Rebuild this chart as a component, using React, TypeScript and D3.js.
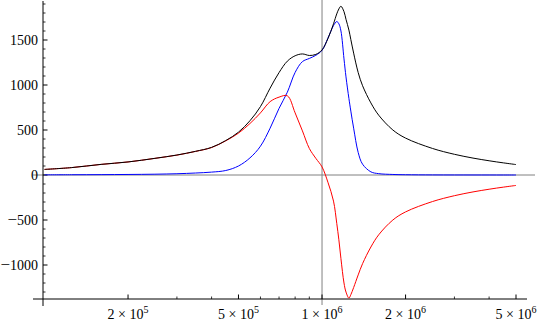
import React from 'react';
import * as d3 from 'd3';

// frequencies sampled along the log axis
const freqs = [
  1e5, 1.25e5, 1.6e5, 2e5, 2.5e5, 3e5, 3.5e5, 4e5, 4.5e5, 5e5,
  5.5e5, 6e5, 6.5e5, 7e5, 7.5e5, 8e5, 8.5e5, 9e5, 9.5e5, 1e6,
  1.05e6, 1.1e6, 1.13e6, 1.15e6, 1.17e6, 1.2e6, 1.22e6, 1.25e6, 1.27e6, 1.3e6,
  1.35e6, 1.4e6, 1.5e6, 1.6e6, 1.8e6, 2e6, 2.5e6, 3e6, 3.5e6, 4e6,
  4.5e6, 5e6,
];

// black curve
const magnitude = [
  62, 82, 118, 145, 185, 222, 263, 307, 383, 476,
  603, 760, 965, 1138, 1265, 1325, 1345, 1328, 1340, 1390,
  1515, 1680, 1790, 1845, 1875, 1815, 1730, 1610, 1505, 1354,
  1138, 992, 801, 665, 500, 410, 295, 230, 188, 158,
  135, 116,
];

// red curve
const realPart = [
  62, 82, 118, 145, 185, 221, 262, 305, 380, 465,
  572, 690, 815, 865, 880, 690, 490, 295, 185, 90,
  -80, -290, -537, -720, -930, -1200, -1300, -1368, -1330, -1250,
  -1110, -985, -800, -665, -500, -410, -295, -230, -188, -158,
  -135, -116,
];

// blue curve
const imagPart = [
  2, 3, 4, 6, 9, 14, 22, 32, 50, 100,
  190, 320, 520, 740, 920, 1140, 1260, 1295, 1330, 1385,
  1520, 1660, 1705, 1680, 1600, 1290, 1090, 850, 710, 520,
  250, 120, 35, 15, 6, 3, 1, 0.5, 0.3, 0.2,
  0.1, 0.1,
];

const xLabelTicks = [
  { v: 2e5, m: 2, e: 5 },
  { v: 5e5, m: 5, e: 5 },
  { v: 1e6, m: 1, e: 6 },
  { v: 2e6, m: 2, e: 6 },
  { v: 5e6, m: 5, e: 6 },
];
const xMinorTicks = [3e5, 4e5, 6e5, 7e5, 8e5, 9e5, 3e6, 4e6];
const yMajorTicks = [-1000, -500, 0, 500, 1000, 1500];

const W = 540;
const H = 329;
const serif = { fontFamily: "'Liberation Serif', 'Times New Roman', Times, serif" };

const App: React.FC = () => {
  const x = d3.scaleLog().domain([1e5, 5e6]).range([44.5, 516]);
  const y = d3.scaleLinear().domain([0, 1000]).range([175, 85]);

  const axisX = 43;
  const axisY = 299;

  const line = (vals: number[]) =>
    d3.line<number>()
      .x((_, i) => x(freqs[i]))
      .y(d => y(d))
      .curve(d3.curveCatmullRom.alpha(0.5))(vals) || '';

  const yMinor = d3.range(-1300, 2000, 100).filter(v => v % 500 !== 0);

  return (
    <svg width={W} height={H} style={{ position: 'absolute', left: 0, top: 0, background: '#fff' }}>
      <defs>
        <clipPath id="plot">
          <rect x={axisX} y={0} width={W - axisX} height={axisY + 1} />
        </clipPath>
      </defs>

      {/* reference lines */}
      <line x1={33} x2={535} y1={y(0)} y2={y(0)} stroke="#808080" strokeWidth={1} />
      <line x1={x(1e6)} x2={x(1e6)} y1={0} y2={305} stroke="#808080" strokeWidth={1} />

      {/* axes */}
      <line x1={33} x2={527} y1={axisY} y2={axisY} stroke="#000" strokeWidth={1} />
      <line x1={axisX} x2={axisX} y1={1} y2={306} stroke="#000" strokeWidth={1} />

      {/* y ticks */}
      {yMinor.map(v => (
        <line key={'ym' + v} x1={axisX} x2={axisX + 2.5} y1={y(v)} y2={y(v)} stroke="#000" strokeWidth={0.8} />
      ))}
      {yMajorTicks.map(v => (
        <g key={'yM' + v}>
          <line x1={axisX} x2={axisX + 4.5} y1={y(v)} y2={y(v)} stroke="#000" strokeWidth={1} />
          <text x={38} y={y(v)} dy="0.35em" textAnchor="end" fontSize={14} fill="#000" style={serif}>
            {v < 0 && <tspan fontSize={17}>{'\u2212'}</tspan>}
            <tspan>{`${Math.abs(v)}`}</tspan>
          </text>
        </g>
      ))}

      {/* x ticks */}
      {xMinorTicks.map(v => (
        <line key={'xm' + v} x1={x(v)} x2={x(v)} y1={axisY} y2={axisY - 2.5} stroke="#000" strokeWidth={0.8} />
      ))}
      {xLabelTicks.map(t => (
        <g key={'xM' + t.v}>
          <line x1={x(t.v)} x2={x(t.v)} y1={axisY} y2={axisY - 4.5} stroke="#000" strokeWidth={1} />
          <text x={x(t.v)} y={319} textAnchor="middle" fontSize={14} fill="#000" style={serif}>
            {`${t.m} \u00d7 10`}
            <tspan fontSize={10} dy={-6}>{t.e}</tspan>
          </text>
        </g>
      ))}

      {/* curves */}
      <g clipPath="url(#plot)" fill="none" strokeWidth={1}>
        <path d={line(imagPart)} stroke="#0000ff" />
        <path d={line(realPart)} stroke="#ff0000" />
        <path d={line(magnitude)} stroke="#000000" />
      </g>
    </svg>
  );
};

export default App;
